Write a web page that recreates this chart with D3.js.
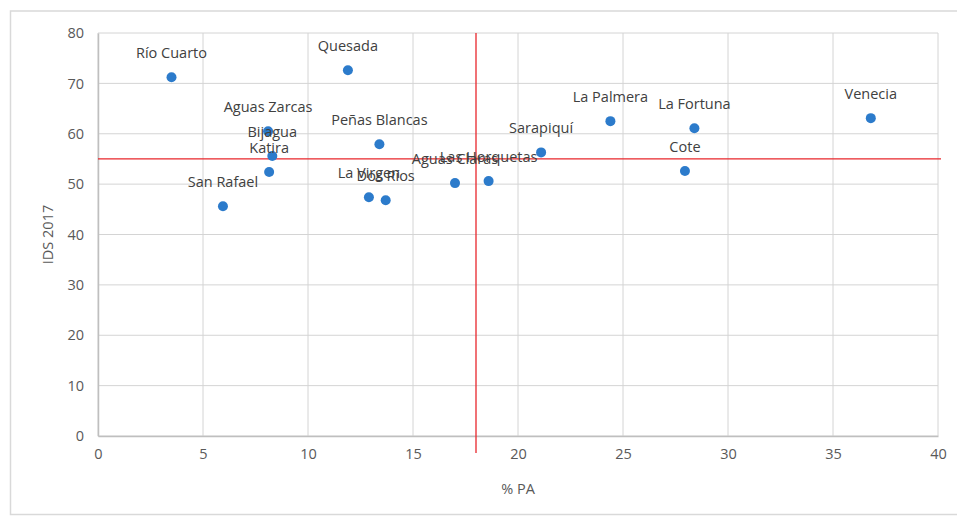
<!DOCTYPE html>
<html>
<head>
<meta charset="utf-8">
<script src="https://cdn.jsdelivr.net/npm/d3@7"></script>
<style>
  body { margin: 0; background: #fff; }
  svg text { font-family: "Open Sans", "Noto Sans", sans-serif; }
</style>
</head>
<body>
<div class="chart"></div>
<script>
var svgWidth = 957;
var svgHeight = 516;

var margin = { top: 33, right: 19, bottom: 80, left: 98 };
var width = svgWidth - margin.left - margin.right;
var height = svgHeight - margin.top - margin.bottom;

// data
var names = ["Río Cuarto", "Quesada", "Aguas Zarcas", "Bijagua", "Katira", "San Rafael",
  "Peñas Blancas", "La Virgen", "Dos Ríos", "Aguas Claras", "Las Horquetas",
  "Sarapiquí", "La Palmera", "La Fortuna", "Cote", "Venecia"];
var pctPA = [3.5, 11.9, 8.1, 8.3, 8.15, 5.95, 13.4, 12.9, 13.7, 17.0, 18.6, 21.1, 24.4, 28.4, 27.95, 36.8];
var ids2017 = [71.2, 72.6, 60.5, 55.6, 52.4, 45.6, 57.9, 47.4, 46.8, 50.2, 50.6, 56.3, 62.5, 61.1, 52.6, 63.1];
var xTicks = [0, 5, 10, 15, 20, 25, 30, 35, 40];
var yTicks = [0, 10, 20, 30, 40, 50, 60, 70, 80];
var refX = 18;
var refY = 55;

var svg = d3.select(".chart")
  .append("svg")
  .attr("width", svgWidth)
  .attr("height", svgHeight);

// outer frame
svg.append("path")
  .attr("d", "M962,11 H10.5 V514.5 H962")
  .attr("fill", "none")
  .attr("stroke", "#d9d9d9")
  .attr("stroke-width", 1.5);

var chartGroup = svg.append("g")
  .attr("transform", `translate(${margin.left}, ${margin.top})`);

var xScale = d3.scaleLinear().domain([0, 40]).range([0, width]);
var yScale = d3.scaleLinear().domain([0, 80]).range([height, 0]);

// gridlines
chartGroup.append("g")
  .selectAll("line")
  .data(yTicks)
  .enter()
  .append("line")
  .attr("x1", 0)
  .attr("x2", width)
  .attr("y1", d => yScale(d))
  .attr("y2", d => yScale(d))
  .attr("stroke", "#d4d4d4")
  .attr("stroke-width", 1);

chartGroup.append("g")
  .selectAll("line")
  .data(xTicks)
  .enter()
  .append("line")
  .attr("x1", d => xScale(d))
  .attr("x2", d => xScale(d))
  .attr("y1", 0)
  .attr("y2", height)
  .attr("stroke", "#d4d4d4")
  .attr("stroke-width", 1);

// axes
var bottomAxis = d3.axisBottom(xScale).tickValues(xTicks).tickSize(0).tickPadding(13);
var leftAxis = d3.axisLeft(yScale).tickValues(yTicks).tickSize(0).tickPadding(14);

var xAxis = chartGroup.append("g")
  .attr("transform", `translate(0,${height})`)
  .call(bottomAxis);
xAxis.select(".domain").attr("stroke", "#bfbfbf").attr("stroke-width", 1.5);
xAxis.selectAll("text").attr("fill", "#595959").style("font-size", "14.5px");

var yAxis = chartGroup.append("g").call(leftAxis);
yAxis.select(".domain").attr("stroke", "#bfbfbf").attr("stroke-width", 1.5);
yAxis.selectAll("text").attr("fill", "#595959").style("font-size", "14.5px");

// axis titles
chartGroup.append("text")
  .attr("x", width / 2)
  .attr("y", height + 58)
  .attr("text-anchor", "middle")
  .attr("fill", "#595959")
  .style("font-size", "14.5px")
  .text("% PA");

chartGroup.append("text")
  .attr("transform", "rotate(-90)")
  .attr("x", -height / 2)
  .attr("y", -45)
  .attr("text-anchor", "middle")
  .attr("fill", "#595959")
  .style("font-size", "14.5px")
  .text("IDS 2017");

// reference lines
chartGroup.append("line")
  .attr("x1", xScale(refX))
  .attr("x2", xScale(refX))
  .attr("y1", 0)
  .attr("y2", height + 17)
  .attr("stroke", "#e8262b")
  .attr("stroke-width", 1.3);

chartGroup.append("line")
  .attr("x1", 0)
  .attr("x2", width + 3)
  .attr("y1", yScale(refY))
  .attr("y2", yScale(refY))
  .attr("stroke", "#e8262b")
  .attr("stroke-width", 1.3);

// points
chartGroup.append("g")
  .selectAll("circle")
  .data(names)
  .enter()
  .append("circle")
  .attr("cx", (d, i) => xScale(pctPA[i]))
  .attr("cy", (d, i) => yScale(ids2017[i]))
  .attr("r", 5)
  .attr("fill", "#2c7bcb");

// labels sit above their dots, overlapping where the dots are close (as in the original)
chartGroup.append("g")
  .selectAll("text")
  .data(names)
  .enter()
  .append("text")
  .attr("x", (d, i) => xScale(pctPA[i]))
  .attr("y", (d, i) => yScale(ids2017[i]) - 19)
  .attr("text-anchor", "middle")
  .attr("fill", "#404040")
  .style("font-size", "14.5px")
  .text(d => d);
</script>
</body>
</html>
